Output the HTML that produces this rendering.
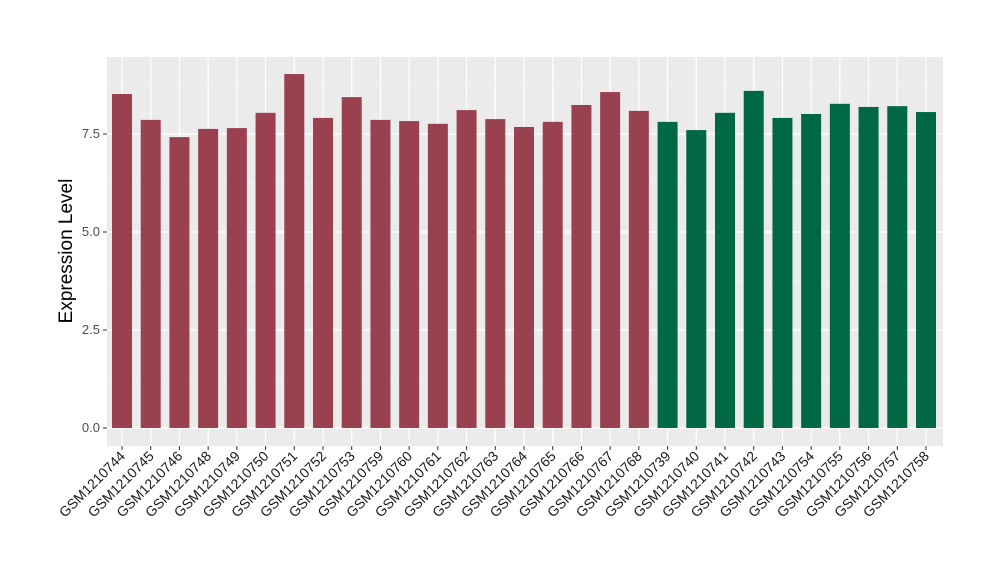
<!DOCTYPE html>
<html><head><meta charset="utf-8"><style>
body{margin:0;background:#fff;}
svg text{font-family:"Liberation Sans",sans-serif;}
</style></head><body>
<svg id="chart" width="1000" height="580" xmlns="http://www.w3.org/2000/svg">
<rect x="107" y="57" width="836" height="389" fill="#ebebeb"/>
<g id="grid"></g><g id="bars"></g><g id="yaxis"></g><g id="xaxis"></g>
<text x="72" y="251" font-size="19" text-anchor="middle" transform="rotate(-90 72 251)">Expression Level</text>
</svg>
<script>
const categories=["GSM1210744","GSM1210745","GSM1210746","GSM1210748","GSM1210749","GSM1210750","GSM1210751","GSM1210752","GSM1210753","GSM1210759","GSM1210760","GSM1210761","GSM1210762","GSM1210763","GSM1210764","GSM1210765","GSM1210766","GSM1210767","GSM1210768","GSM1210739","GSM1210740","GSM1210741","GSM1210742","GSM1210743","GSM1210754","GSM1210755","GSM1210756","GSM1210757","GSM1210758"];
const values=[8.52,7.86,7.42,7.63,7.65,8.04,9.03,7.91,8.44,7.86,7.83,7.76,8.11,7.88,7.68,7.81,8.24,8.57,8.09,7.81,7.60,8.04,8.60,7.91,8.01,8.27,8.19,8.21,8.06];
const groups=["a","a","a","a","a","a","a","a","a","a","a","a","a","a","a","a","a","a","a","b","b","b","b","b","b","b","b","b","b"];
const yTicks=[0,2.5,5,7.5];
const yTickLabels=["0.0","2.5","5.0","7.5"];
const NS="http://www.w3.org/2000/svg";
const y=v=>428-v*39.2;
const x=i=>122+i*(926-122)/(categories.length-1);
function mk(t,a,p){const e=document.createElementNS(NS,t);for(const k in a)e.setAttribute(k,a[k]);p.appendChild(e);return e;}
const grid=document.getElementById('grid'),bars=document.getElementById('bars'),ya=document.getElementById('yaxis'),xa=document.getElementById('xaxis');
for(let v=-1.25;v<=10;v+=2.5){const yy=y(v);if(yy>57&&yy<446){const l=mk('line',{x1:107,x2:943,y1:yy,y2:yy,stroke:'#f5f5f5','stroke-width':0.6},grid);}}
yTicks.forEach((v,i)=>{const l=mk('line',{x1:107,x2:943,y1:y(v),y2:y(v),stroke:'#fff','stroke-width':1.2},grid);

const tk=mk('line',{x1:103,x2:107,y1:y(v),y2:y(v),stroke:'#333'},ya);
const t=mk('text',{x:100,y:y(v)+4,'font-size':13,'text-anchor':'end',fill:'#4d4d4d'},ya);t.textContent=yTickLabels[i];
});
categories.forEach((c,i)=>{const g=mk('line',{x1:x(i),x2:x(i),y1:57,y2:446,stroke:'#fff','stroke-width':1.2},grid);
});
categories.forEach((c,i)=>{const r=mk('rect',{x:x(i)-10,y:y(values[i]),width:20,height:y(0)-y(values[i]),fill:groups[i]==='a'?'#9a4150':'#006842'},bars);

const tk=mk('line',{x1:x(i),x2:x(i),y1:446,y2:450,stroke:'#333'},xa);
const t=mk('text',{x:x(i)+4,y:457,'font-size':14,'text-anchor':'end',fill:'#1a1a1a',transform:`rotate(-45 ${x(i)+4} 457)`},xa);t.textContent=c;
});
</script>
</body></html>
